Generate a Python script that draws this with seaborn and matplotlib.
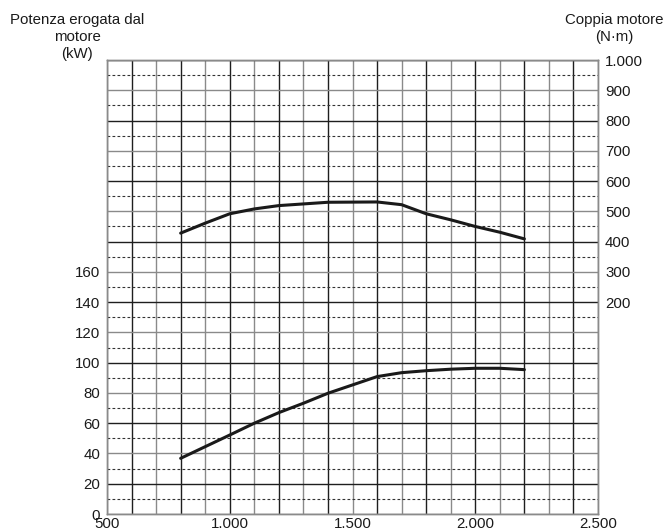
import numpy as np
import pandas as pd
import seaborn as sns
import matplotlib.pyplot as plt

# data
rpm = [800, 900, 1000, 1100, 1200, 1300, 1400, 1500, 1600, 1700, 1800, 1900, 2000, 2100, 2200]
power_kw = [36.8, 44.5, 52.2, 60.0, 67.0, 73.2, 79.8, 85.3, 90.8, 93.4, 94.7, 95.7, 96.3, 96.3, 95.4]
torque_rpm = [800, 900, 1000, 1100, 1200, 1400, 1600, 1700, 1800, 1900, 2000, 2100, 2200]
torque_nm = [428, 461, 492, 508, 519, 530, 531, 522, 492, 472, 450, 431, 409]

x_ticks = [500, 1000, 1500, 2000, 2500]
left_ticks = [0, 20, 40, 60, 80, 100, 120, 140, 160]
right_ticks = [200, 300, 400, 500, 600, 700, 800, 900, 1000]


def fmt(v):
    return f"{v:,}".replace(",", ".")


sns.set_style("white")
plt.rcParams["font.family"] = ["Liberation Sans", "DejaVu Sans"]
fs = 10.8

fig = plt.figure(figsize=(6.67, 5.32), dpi=100)
ax = fig.add_axes([0.1604, 0.0338, 0.7362, 0.8534])

# grid: vertical every 100 rpm, horizontal solid every 20 kW, dashed in between
for xv in range(500, 2501, 100):
    col = "#1e1e1e" if (xv // 100) % 2 == 0 else "#8a8a8a"
    ax.axvline(xv, color=col, lw=1.0, zorder=1)
for yv in range(0, 301, 10):
    if yv % 20 == 0:
        col = "#1e1e1e" if yv % 40 == 20 else "#8a8a8a"
        ax.axhline(yv, color=col, lw=1.0, zorder=1)
    else:
        ax.axhline(yv, color="#333333", lw=0.8, ls=(0, (2.5, 2)), zorder=1)

df_p = pd.DataFrame({"rpm": rpm, "kW": power_kw})
sns.lineplot(data=df_p, x="rpm", y="kW", ax=ax, color="#1a1a1a", lw=2.2, zorder=3)

ax.set_xlim(500, 2500)
ax.set_ylim(0, 300)
ax.set_xticks(x_ticks)
ax.set_xticklabels([fmt(v) for v in x_ticks])
ax.set_yticks(left_ticks)
ax.set_yticklabels([fmt(v) for v in left_ticks], va="center_baseline")
ax.tick_params(axis="both", length=0, labelsize=fs, colors="#1a1a1a")
ax.tick_params(axis="x", pad=2.5)
ax.tick_params(axis="y", pad=5)
ax.set_xlabel("")
ax.set_ylabel("")

ax2 = ax.twinx()
df_t = pd.DataFrame({"rpm": torque_rpm, "Nm": torque_nm})
sns.lineplot(data=df_t, x="rpm", y="Nm", ax=ax2, color="#1a1a1a", lw=2.2, zorder=3)
ax2.set_ylim(-500, 1000)
ax2.set_yticks(right_ticks)
ax2.set_yticklabels([fmt(v) for v in right_ticks])
ax2.tick_params(axis="y", length=0, labelsize=fs, pad=5, colors="#1a1a1a")
ax2.set_ylabel("")

for a in (ax, ax2):
    for s in a.spines.values():
        s.set_color("#8a8a8a")
        s.set_linewidth(1.0)

fig.text(77 / 667, 1 - 13 / 532, "Potenza erogata dal\nmotore\n(kW)", ha="center", va="top",
         fontsize=fs, linespacing=1.27, color="#1a1a1a")
fig.text(614 / 667, 1 - 13 / 532, "Coppia motore\n(N\u00b7m)", ha="center", va="top",
         fontsize=fs, linespacing=1.27, color="#1a1a1a")

fig.savefig("out.png", dpi=100)
